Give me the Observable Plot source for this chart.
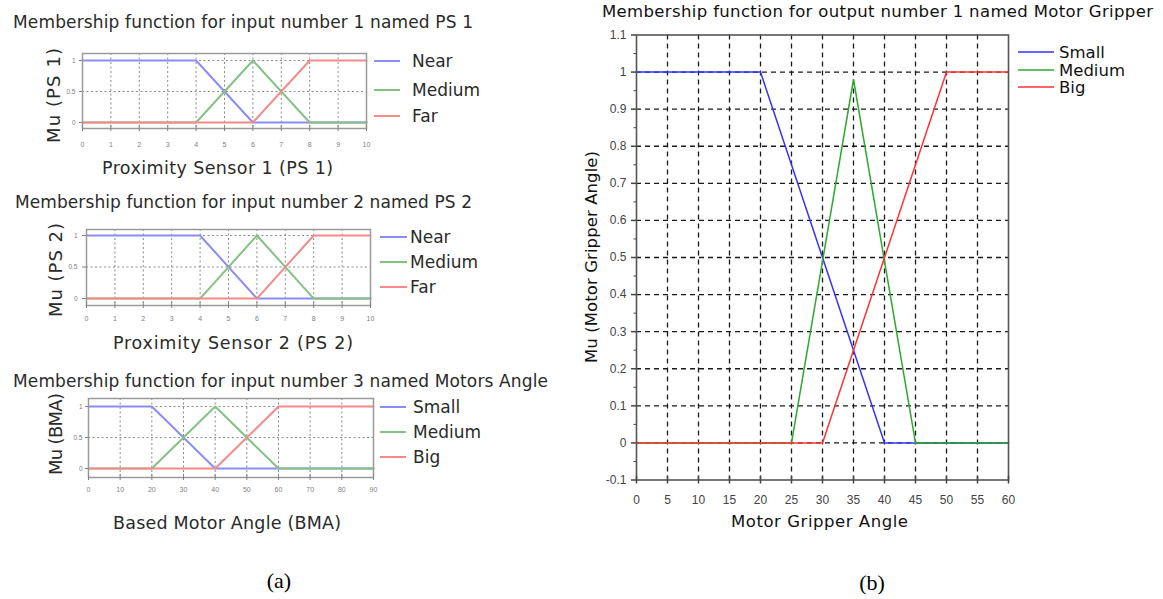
<!DOCTYPE html>
<html><head><meta charset="utf-8">
<script src="https://cdn.jsdelivr.net/npm/d3@7"></script>
<script src="https://cdn.jsdelivr.net/npm/@observablehq/plot@0.6"></script>
<style>
body{margin:0;background:#fff;}
#root{position:relative;width:1163px;height:599px;overflow:hidden;background:#fff;}
#root svg{position:absolute;}
</style></head><body><div id="root"></div>
<script>
// ---- data ----
const ps1Near   = [[0,1],[4,1],[6,0],[10,0]];
const ps1Medium = [[0,0],[4,0],[6,1],[8,0],[10,0]];
const ps1Far    = [[0,0],[6,0],[8,1],[10,1]];
const ps2Near   = [[0,1],[4,1],[6,0],[10,0]];
const ps2Medium = [[0,0],[4,0],[6,1],[8,0],[10,0]];
const ps2Far    = [[0,0],[6,0],[8,1],[10,1]];
const bmaSmall  = [[0,1],[20,1],[40,0],[90,0]];
const bmaMedium = [[0,0],[20,0],[40,1],[60,0],[90,0]];
const bmaBig    = [[0,0],[40,0],[60,1],[90,1]];
const gripSmall  = [[0,1],[20,1],[40,0],[60,0]];
const gripMedium = [[0,0],[25,0],[35,0.98],[45,0],[60,0]];
const gripBig    = [[0,0],[30,0],[50,1],[60,1]];

const psNames = ["Near","Medium","Far"];
const bmaNames = ["Small","Medium","Big"];
const gripNames = ["Small","Medium","Big"];

const psTicks = [0,1,2,3,4,5,6,7,8,9,10];
const bmaTicks = [0,10,20,30,40,50,60,70,80,90];
const inYTicks = [0,0.5,1];
const gripXTicks = [0,5,10,15,20,25,30,35,40,45,50,55,60];
const gripYTicks = [-0.1,0,0.1,0.2,0.3,0.4,0.5,0.6,0.7,0.8,0.9,1,1.1];
const gripYMinor = [-0.05,0.05,0.15,0.25,0.35,0.45,0.55,0.65,0.75,0.85,0.95,1.05];

const pastel = ["#8c8cf5","#84c284","#f58a8a"];
const bright = ["#3333ff","#2ea82e","#ff3333"];

const root = document.getElementById("root");

function place(svg, left, top) {
  svg.style.position = "absolute";
  svg.style.left = left + "px";
  svg.style.top = top + "px";
  root.appendChild(svg);
}

function smallChart(cfg) {
  const {series, xTicks, yDomain, xDomain, left, top, width, height, m, xPad, yTick, yPad} = cfg;
  const marks = [
    Plot.gridX(xTicks.slice(1, -1), {stroke:"#8a8a8a", strokeOpacity:1, strokeDasharray:"2,2.5", strokeWidth:1}),
    Plot.gridY(inYTicks, {stroke:"#8a8a8a", strokeOpacity:1, strokeDasharray:"2,2.5", strokeWidth:1})
  ];
  series.forEach((s, i) => marks.push(Plot.line(s, {x: d => d[0], y: d => d[1], stroke: pastel[i], strokeWidth: 2})));
  marks.push(
    Plot.frame({stroke:"#9a9a9a", strokeWidth:1.5}),
    Plot.ruleX(xTicks, {y1: yDomain[0], y2: yDomain[0] + 0.05, stroke:"#888", strokeWidth:1}),
    Plot.axisX(xTicks, {tickSize:3, tickPadding:xPad, fontSize:7, color:"#808080", label:null, tickFormat: d => String(d)}),
    Plot.axisY(inYTicks, {tickSize:yTick, tickPadding:yPad, fontSize:6.5, color:"#808080", label:null, tickFormat: d => String(d)})
  );
  const svg = Plot.plot({
    width, height,
    marginLeft:m[0], marginRight:m[1], marginTop:m[2], marginBottom:m[3],
    x:{domain:xDomain}, y:{domain:yDomain},
    style:{background:"transparent", fontFamily:"Liberation Sans, Arial, sans-serif", overflow:"visible"},
    marks
  });
  place(svg, left, top);
}

smallChart({series:[ps1Near, ps1Medium, ps1Far], xTicks:psTicks, xDomain:[0,10], yDomain:[-0.097,1.113],
  left:0, top:40, width:380, height:120, m:[82,14,13,32], xPad:10.5, yTick:3, yPad:4});
smallChart({series:[ps2Near, ps2Medium, ps2Far], xTicks:psTicks, xDomain:[0,10], yDomain:[-0.11,1.095],
  left:0, top:215, width:380, height:120, m:[86,10,14,30], xPad:7.5, yTick:4, yPad:5});
smallChart({series:[bmaSmall, bmaMedium, bmaBig], xTicks:bmaTicks, xDomain:[0,90], yDomain:[-0.145,1.13],
  left:0, top:385, width:380, height:115, m:[88,7,13,23], xPad:6.5, yTick:3, yPad:3});

// ---- output chart ----
{
  const marks = [
    Plot.gridX(gripXTicks.slice(1, -1), {stroke:"#1a1a1a", strokeOpacity:1, strokeDasharray:"5,4", strokeWidth:1.3}),
    Plot.gridY(gripYTicks.slice(1, -1), {stroke:"#1a1a1a", strokeOpacity:1, strokeDasharray:"5,4", strokeWidth:1.3})
  ];
  [gripSmall, gripMedium, gripBig].forEach((s, i) =>
    marks.push(Plot.line(s, {x: d => d[0], y: d => d[1], stroke: bright[i], strokeWidth: 1.5})));
  marks.push(
    Plot.frame({stroke:"#555", strokeWidth:1.6}),
    Plot.ruleX(gripXTicks, {y1:-0.1, y2:-0.09, stroke:"#444", strokeWidth:1.5}),
    Plot.axisX(gripXTicks, {tickSize:4, tickPadding:11.5, fontSize:12, color:"#444", strokeWidth:1.5, label:null, tickFormat: d => String(d)}),
    Plot.axisY(gripYTicks, {tickSize:5, tickPadding:5, fontSize:12, color:"#444", strokeWidth:1.5, label:null, tickFormat: d => String(d)}),
    Plot.axisY(gripYMinor, {tickSize:2.5, color:"#444", label:null, tickFormat: () => ""})
  );
  const svg = Plot.plot({
    width:440, height:495,
    marginLeft:56, marginRight:12, marginTop:14.5, marginBottom:35.5,
    x:{domain:[0,60]}, y:{domain:[-0.1,1.1]},
    style:{background:"transparent", fontFamily:"Liberation Sans, Arial, sans-serif", overflow:"visible"},
    marks
  });
  place(svg, 580, 20);
}

// ---- titles, axis labels, legends, panel letters ----
const ov = d3.select(root).append("svg")
  .attr("width", 1163).attr("height", 599)
  .style("position","absolute").style("left","0px").style("top","0px")
  .style("pointer-events","none");

function txt(x, y, s, o = {}) {
  const g = ov.append("text")
    .attr("dominant-baseline", "central")
    .attr("text-anchor", o.anchor || "start")
    .attr("font-family", o.family || "DejaVu Sans, sans-serif")
    .attr("font-size", o.size || 17)
    .attr("fill", o.fill || "#2a2a2a")
    .text(s);
  if (o.rotate) g.attr("transform", `translate(${x},${y}) rotate(-90)`).attr("x", 0).attr("y", 0);
  else g.attr("x", x).attr("y", y);
  if (o.len) g.attr("textLength", o.len);
  return g;
}

// titles
txt(13, 22, "Membership function for input number 1 named PS 1", {len:460});
txt(15, 202, "Membership function for input number 2 named PS 2", {len:457});
txt(13, 381, "Membership function for input number 3 named Motors Angle", {len:535});
txt(602, 11, "Membership function for output number 1 named Motor Gripper", {len:551, fill:"#111", size:16.5});

// x labels
txt(217.5, 168, "Proximity Sensor 1 (PS 1)", {anchor:"middle", len:231, size:17.5});
txt(233, 343, "Proximity Sensor 2 (PS 2)", {anchor:"middle", len:240, size:17.5});
txt(227, 523, "Based Motor Angle (BMA)", {anchor:"middle", len:228, size:17.5});
txt(819.5, 521, "Motor Gripper Angle", {anchor:"middle", len:177, fill:"#111", size:16.5});

// y labels
txt(53, 95.5, "Mu (PS 1)", {anchor:"middle", rotate:true, len:95, size:18});
txt(55, 270, "Mu (PS 2)", {anchor:"middle", rotate:true, len:94, size:18});
txt(55, 434, "Mu (BMA)", {anchor:"middle", rotate:true, len:82, size:18});
txt(591, 257, "Mu (Motor Gripper Angle)", {anchor:"middle", rotate:true, len:212, fill:"#111", size:16.5});

// legends
function legend(names, colors, x1, x2, tx, ys, o) {
  names.forEach((n, i) => {
    ov.append("line").attr("x1", x1).attr("x2", x2).attr("y1", ys[i]).attr("y2", ys[i])
      .attr("stroke", colors[i]).attr("stroke-width", o.sw);
    txt(tx, ys[i], n, {size:o.size, fill:o.fill});
  });
}
legend(psNames, pastel, 374, 400, 412, [61, 90, 116], {sw:2, size:17, fill:"#2a2a2a"});
legend(psNames, pastel, 380, 407, 410, [237, 262, 287], {sw:2, size:17, fill:"#2a2a2a"});
legend(bmaNames, pastel, 380, 406, 413, [407, 432, 457], {sw:2, size:17, fill:"#2a2a2a"});
legend(gripNames, bright, 1018, 1054, 1059, [52, 70, 87], {sw:1.5, size:16.5, fill:"#111"});

// panel letters
txt(279, 580, "(a)", {anchor:"middle", family:"Liberation Serif, Times New Roman, serif", size:22, fill:"#000"});
txt(872, 582, "(b)", {anchor:"middle", family:"Liberation Serif, Times New Roman, serif", size:22, fill:"#000"});
</script></body></html>
